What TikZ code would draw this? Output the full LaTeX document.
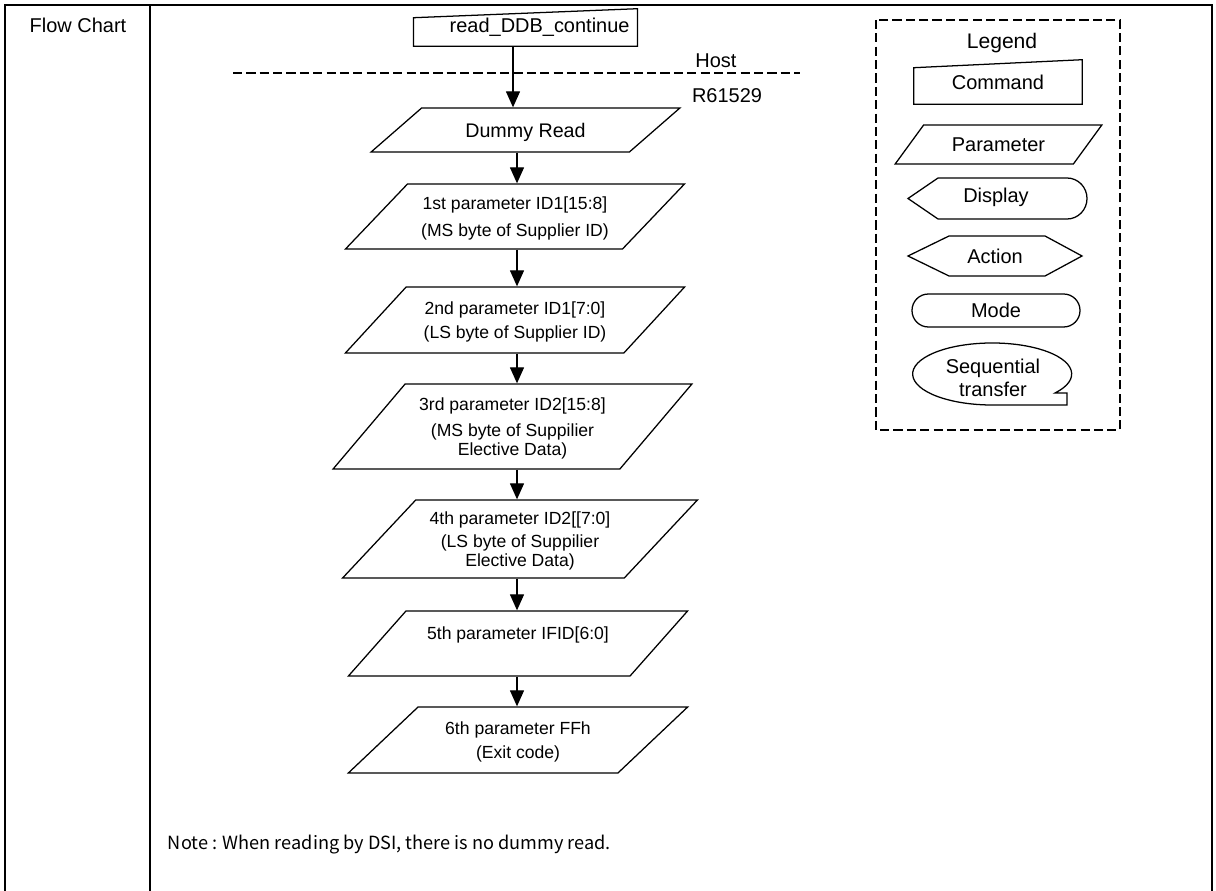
\documentclass[tikz,border=0pt]{standalone}
\usepackage{fontspec}
\setmainfont{Liberation Sans}
\newfontfamily\notefont{Noto Sans CJK JP}
\usetikzlibrary{arrows.meta, positioning, shapes.geometric, calc}

\begin{document}
\begin{tikzpicture}[
      x=0.025cm, y=-0.025cm,
      font=\fontsize{14.2}{16.3}\selectfont,
      frame/.style={line width=1.4pt},
      shp/.style={draw, line width=0.9pt},
      param/.style={shp, trapezium, trapezium stretches=true, inner sep=1pt,
                    align=center, text depth=0pt, font=\fontsize{12.5}{13.3}\selectfont},
      cmdbox/.style={inner sep=0pt},
      sep/.style={line width=0.9pt, dash pattern=on 6.5pt off 3pt},
      flow/.style={line width=0.9pt, -{Triangle[length=4mm, width=3.5mm]}},
    ]
    \useasboundingbox (0,0) rectangle (1216,891);

    % table frame
    \draw[frame] (5,891) -- (5,5) -- (1212,5) -- (1212,891);
    \draw[frame] (150,5) -- (150,891);
    \node (title) at (78,25) {Flow Chart};

    % host / R61529 split
    \coordinate (sepL) at (233,73);
    \coordinate (sepR) at (800,73);
    \draw[sep] (sepL) -- (sepR);
    \node (host) at (716,61) {Host};
    \node (lsi)  at (727,96) {R61529};

    % --- command from the host ---
    \node[cmdbox, text width=5.2cm, align=right, inner xsep=0.19cm,
          minimum height=0.925cm] (cmd) at (525.5,27.5) {read\_DDB\_continue};
    \draw[shp] (cmd.south west) -- (cmd.south east) -- (cmd.north east)
      -- ([yshift=-2.25mm]cmd.north west) -- cycle;

    % --- parameters read back ---
    \node[param, font=\fontsize{14}{16}\selectfont, trapezium left angle=29.7,
          trapezium right angle=150.3, minimum width=7.725cm, minimum height=1.1cm]
      (dummy) at (525.5,130) {Dummy Read};
    \node[param, trapezium left angle=37.4, trapezium right angle=142.6,
          minimum width=8.5cm, minimum height=1.625cm] (p1) at (515,216.5)
      {1st parameter ID1[15:8]\\[5.5pt](MS byte of Supplier ID)};
    \node[param, trapezium left angle=37.8, trapezium right angle=142.2,
          minimum width=8.5cm, minimum height=1.65cm] (p2) at (515,320)
      {2nd parameter ID1[7:0]\\[4.2pt](LS byte of Supplier ID)};
    \node[param, trapezium left angle=43.7, trapezium right angle=136.3,
          minimum width=8.975cm, minimum height=2.125cm] (p3) at (512.5,426.5)
      {3rd parameter ID2[15:8]\\[5.5pt](MS byte of Suppilier\\Elective Data)};
    \node[param, trapezium left angle=41.6, trapezium right angle=138.4,
          minimum width=8.9cm, minimum height=1.95cm] (p4) at (520,539)
      {4th parameter ID2[[7:0]\\[3pt](LS byte of Suppilier\\Elective Data)};
    \node[param, trapezium left angle=37.7, trapezium right angle=142.3,
          minimum width=8.5cm, minimum height=1.625cm, text depth=15pt] (p5) at (518,643.5)
      {5th parameter IFID[6:0]};
    \node[param, trapezium left angle=37.8, trapezium right angle=142.2,
          minimum width=8.5cm, minimum height=1.65cm] (p6) at (518,740)
      {6th parameter FFh\\[4.2pt](Exit code)};

    % --- order of the transfers ---
    \coordinate (spineA) at (513,0);
    \coordinate (spineB) at (517,0);
    \draw[flow] (cmd.south -| spineA) -- (dummy.north -| spineA);
    \draw[flow] (dummy.south -| spineB) -- (p1.north -| spineB);
    \foreach \a/\b in {p1/p2, p2/p3, p3/p4, p4/p5, p5/p6} {
      \draw[flow] (\a.south -| spineB) -- (\b.north -| spineB);
    }

    \node[anchor=west, font=\notefont\fontsize{12.9}{14}\selectfont] (note) at (163,845)
      {Note : When reading by DSI, there is no dummy read.};

    % --- legend ---
    \draw[sep] (876,20) rectangle (1120,430);
    \node[font=\fontsize{15}{17}\selectfont] (legend) at (1002,43) {Legend};
    \node[cmdbox, minimum width=4.2cm, minimum height=1.1cm] (lcmd) at (998,82) {Command};
    \draw[shp] (lcmd.south west) -- (lcmd.south east) -- (lcmd.north east)
      -- ([yshift=-2mm]lcmd.north west) -- cycle;
    \node[param, font=\fontsize{14.2}{16.3}\selectfont, trapezium left angle=42.2,
          trapezium right angle=137.8, minimum width=5.175cm, minimum height=0.975cm]
      (lpar) at (998.5,144.5) {Parameter};
    \node (ldisp) at (996,197) {Display};
    \draw[shp] (908,198.5) -- (938,178) -- (1067,178)
      arc[start angle=90, end angle=-90, x radius=0.5cm, y radius=0.5125cm]
      -- (938,219) -- cycle;
    \node (lact) at (995,256) {Action};
    \draw[shp] (908,256) -- (949,236) -- (1045,236) -- (1082,256) -- (1045,276)
      -- (949,276) -- cycle;
    \node (lmode) at (996,310.5) {Mode};
    \draw[shp, rounded corners=0.41cm] (912,294) rectangle (1080,327);
    \node[align=center] (lseq) at (993,378) {Sequential\\transfer};
    \draw[shp] (1055,393)
      arc[start angle=-37.8, end angle=270, x radius=1.9875cm, y radius=0.775cm]
      -- (1067,405) -- (1067,393) -- cycle;
  \end{tikzpicture}
\end{document}
